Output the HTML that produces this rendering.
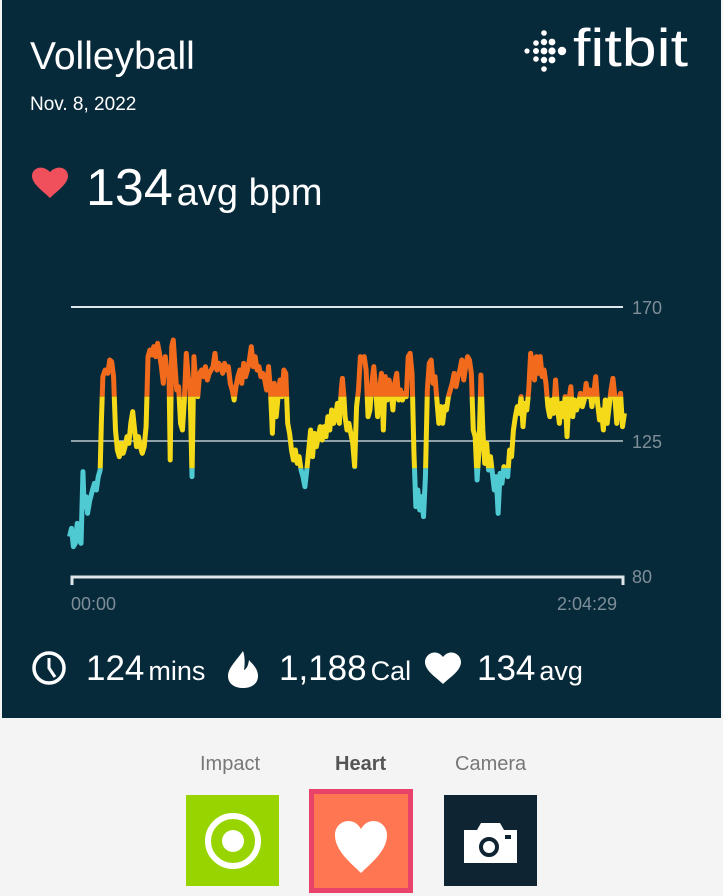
<!DOCTYPE html>
<html><head><meta charset="utf-8"><style>
html,body{margin:0;padding:0;}
body{width:723px;height:896px;background:#f4f4f4;position:relative;overflow:hidden;font-family:"Liberation Sans",sans-serif;}
.dark{position:absolute;left:2px;top:0;width:719px;height:718px;background:#072a3b;}
.t{position:absolute;color:#fff;white-space:nowrap;}
.lab{position:absolute;color:#777;font-size:20px;top:753px;}
</style></head><body>
<div class="dark"></div>
<div class="t" style="left:30px;top:35px;font-size:39px;">Volleyball</div>
<div class="t" style="left:30px;top:94px;font-size:19px;">Nov. 8, 2022</div>
<svg style="position:absolute;left:0;top:0" width="723" height="720">
<g fill="#fff">
<circle cx="527" cy="51" r="2.6"/>
<circle cx="536" cy="43" r="2.8"/><circle cx="536" cy="51" r="3"/><circle cx="536" cy="59" r="2.8"/>
<circle cx="544" cy="33" r="2.8"/><circle cx="544" cy="42" r="3.2"/><circle cx="544" cy="51" r="3.4"/><circle cx="544" cy="60" r="3.2"/><circle cx="544" cy="69" r="2.8"/>
<circle cx="552" cy="42" r="3.4"/><circle cx="552" cy="51" r="3.6"/><circle cx="552" cy="60" r="3.4"/>
<circle cx="562" cy="51" r="4.2"/>
</g>
<text x="573" y="66" fill="#fff" font-size="53" textLength="115" lengthAdjust="spacingAndGlyphs" font-family="Liberation Sans">fitbit</text>
<path d="M50 198 C44 192 32 184 32 176 C32 168 42 164 50 172 C58 164 68 168 68 176 C68 184 56 192 50 198Z" fill="#f0505c"/>
<text x="86" y="205" fill="#fff" font-size="52" font-family="Liberation Sans">134<tspan font-size="38" dx="4">avg bpm</tspan></text>
<line x1="71" y1="307" x2="623" y2="307" stroke="#dfe6ea" stroke-width="2"/>
<line x1="71" y1="441" x2="623" y2="441" stroke="#dfe6ea" stroke-width="1.3"/>
<path d="M72 585 V577 H623 V585" stroke="#dfe6ea" stroke-width="3" fill="none"/>
<g fill="#7e8e98" font-size="18" font-family="Liberation Sans">
<text x="632" y="314">170</text><text x="632" y="448">125</text><text x="632" y="583">80</text>
<text x="71" y="610">00:00</text><text x="557" y="610">2:04:29</text>
</g>
<defs>
<clipPath id="co"><rect x="0" y="0" width="2000" height="320"/></clipPath>
<clipPath id="cy"><rect x="0" y="320" width="2000" height="215"/></clipPath>
<clipPath id="cc"><rect x="0" y="535" width="2000" height="600"/></clipPath>
<polyline id="hr" fill="none" stroke-width="5" stroke-linejoin="round" vector-effect="non-scaling-stroke" points="25,740 30,715 35,770 40,760 45,700 50,750 55,760 60,545 63,650 68,620 72,670 78,630 85,600 90,580 95,600 100,560 105,540 108,400 112,260 118,240 125,250 130,210 135,215 140,260 145,420 150,480 155,500 160,460 165,490 170,470 175,440 180,460 185,400 190,365 195,420 200,470 205,440 210,470 215,490 220,470 225,410 230,200 235,180 240,195 245,170 250,200 255,160 260,190 265,230 270,280 275,200 280,250 285,260 288,510 292,170 296,150 300,220 305,300 310,290 315,400 320,420 325,330 330,190 335,260 340,300 345,560 350,200 355,280 360,320 365,250 370,240 375,260 380,230 385,270 390,250 395,240 400,230 405,190 410,240 415,220 420,230 425,250 430,220 435,240 440,230 445,280 450,300 455,330 460,290 465,260 470,240 475,280 480,220 485,260 490,240 495,210 500,170 505,230 510,200 515,240 520,230 525,260 530,250 535,270 540,300 545,230 550,300 555,430 560,280 565,380 570,320 575,270 580,320 585,240 590,250 595,400 600,430 605,480 610,510 615,480 620,520 625,500 630,540 635,560 640,590 645,540 650,480 655,420 660,500 665,430 670,470 675,440 680,410 685,450 690,410 695,440 700,380 705,420 710,360 715,400 720,380 725,340 730,400 735,300 738,265 742,320 745,380 750,420 755,400 760,430 765,460 770,530 775,350 780,300 785,200 790,210 795,200 800,240 805,380 810,360 815,280 820,230 825,300 830,380 835,300 840,250 845,420 850,260 855,330 860,270 865,300 870,360 875,280 880,250 885,330 890,300 895,330 900,310 905,320 910,200 915,190 920,250 925,490 930,650 935,600 940,660 945,620 950,680 955,560 960,300 965,220 970,210 975,280 980,260 985,330 990,400 995,350 1000,400 1005,350 1010,360 1015,320 1020,300 1025,280 1030,250 1035,290 1040,260 1045,240 1050,210 1055,270 1060,230 1065,200 1070,210 1075,250 1080,420 1085,440 1090,570 1095,480 1100,255 1105,420 1110,520 1115,460 1120,540 1125,500 1130,550 1135,600 1140,560 1145,670 1150,550 1155,580 1160,530 1165,540 1170,560 1175,480 1180,500 1185,420 1190,380 1195,350 1200,370 1205,320 1210,410 1215,340 1220,360 1225,300 1230,190 1235,220 1240,270 1245,200 1250,250 1255,200 1260,260 1265,240 1270,280 1275,350 1280,380 1285,330 1290,370 1295,270 1300,350 1305,400 1310,340 1315,380 1320,320 1325,440 1330,330 1335,290 1340,380 1345,330 1350,360 1355,340 1360,310 1365,350 1370,330 1375,280 1380,320 1385,300 1390,350 1395,310 1400,260 1405,340 1410,390 1415,360 1420,420 1425,330 1430,400 1435,350 1440,300 1445,265 1450,320 1455,400 1460,330 1465,310 1470,410 1475,370"/>
</defs>
<g transform="translate(60,290) scale(0.38265,0.33333)">
<use href="#hr" stroke="#f26b1d" clip-path="url(#co)"/>
<use href="#hr" stroke="#f5da1a" clip-path="url(#cy)"/>
<use href="#hr" stroke="#4fcad3" clip-path="url(#cc)"/>
</g>
<circle cx="49" cy="668" r="15" fill="none" stroke="#fff" stroke-width="3.5"/>
<path d="M49 658 V668 L55 677" fill="none" stroke="#fff" stroke-width="3"/>
<text x="86" y="680" fill="#fff" font-size="35" font-family="Liberation Sans">124<tspan font-size="27" dx="4">mins</tspan></text>
<path d="M243 651 C236 661 228 668 228 676 C228 684 235 688 243 688 C251 688 258 684 258 676 C258 668 252 664 249 660 C248 667 246 669 244 670 C245 664 245 656 243 651Z" fill="#fff"/>
<text x="279" y="680" fill="#fff" font-size="35" font-family="Liberation Sans">1,188<tspan font-size="27" dx="4">Cal</tspan></text>
<path d="M443 684 C437 678 425 671 425 662 C425 654 436 648 443 657 C450 648 461 654 461 662 C461 671 449 678 443 684Z" fill="#fff"/>
<text x="477" y="680" fill="#fff" font-size="35" font-family="Liberation Sans">134<tspan font-size="27" dx="4">avg</tspan></text>
</svg>
<div class="lab" style="left:200px;">Impact</div>
<div class="lab" style="left:335px;color:#555;font-weight:bold;">Heart</div>
<div class="lab" style="left:455px;">Camera</div>
<div style="position:absolute;left:186px;top:795px;width:93px;height:91px;background:#97d400;"></div>
<div style="position:absolute;left:205px;top:813px;width:44px;height:44px;border:6px solid #fff;border-radius:50%;"></div>
<div style="position:absolute;left:222px;top:830px;width:22px;height:22px;background:#fff;border-radius:50%;"></div>
<div style="position:absolute;left:309px;top:789px;width:94px;height:94px;background:#ff7752;border:5px solid #e8416a;"></div>
<svg style="position:absolute;left:309px;top:789px" width="104" height="104"><path d="M52 84 C42 74 26 62 26 46 C26 32 44 26 52 40 C60 26 78 32 78 46 C78 62 62 74 52 84Z" fill="#fff"/></svg>
<div style="position:absolute;left:444px;top:795px;width:93px;height:91px;background:#0f2433;"></div>
<svg style="position:absolute;left:444px;top:795px" width="93" height="91"><path d="M20 35 H33 L37 28 H56 L60 35 H73 V68 H20Z" fill="#fff"/><circle cx="45" cy="52" r="8" fill="none" stroke="#0f2433" stroke-width="4"/><rect x="61" y="40" width="6" height="4" fill="#0f2433"/></svg>
</body></html>
